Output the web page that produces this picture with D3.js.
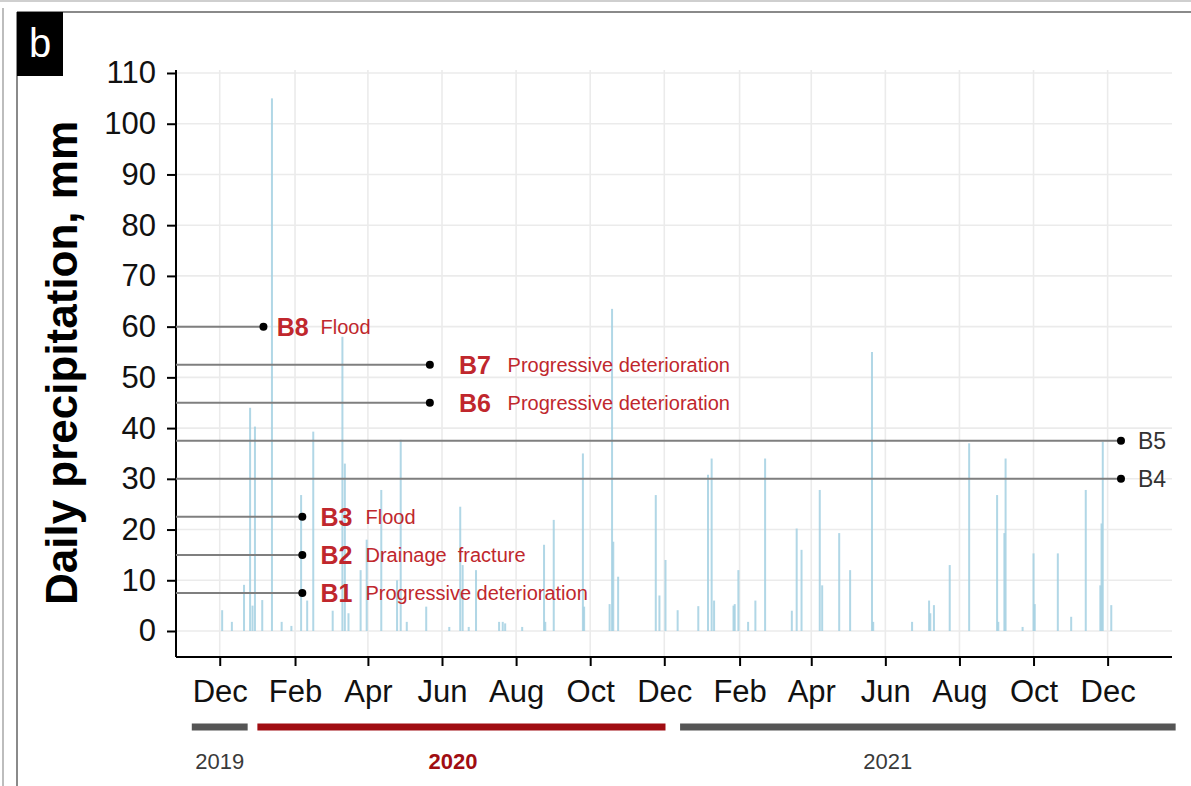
<!DOCTYPE html>
<html><head><meta charset="utf-8">
<script src="https://cdn.jsdelivr.net/npm/d3@7"></script>
<style>body{margin:0;background:#fff}svg{display:block;font-family:Arial,"Liberation Sans",sans-serif}</style>
</head><body><svg id="c" width="1191" height="786"></svg>
<script>
// ---------- data ----------
const rainDates = ["2019-12-03","2019-12-11","2019-12-21","2019-12-26","2019-12-28","2019-12-30","2020-01-05","2020-01-13","2020-01-21","2020-01-29","2020-02-06","2020-02-11","2020-02-16","2020-03-03","2020-03-11","2020-03-13","2020-03-16","2020-03-26","2020-03-31","2020-04-12","2020-04-25","2020-04-28","2020-05-03","2020-05-19","2020-06-07","2020-06-16","2020-06-18","2020-06-23","2020-06-29","2020-07-18","2020-07-21","2020-07-23","2020-08-06","2020-08-24","2020-08-25","2020-09-01","2020-09-25","2020-09-26","2020-10-17","2020-10-19","2020-10-20","2020-10-24","2020-11-24","2020-11-27","2020-12-02","2020-12-12","2020-12-29","2021-01-06","2021-01-09","2021-01-11","2021-01-27","2021-01-28","2021-01-31","2021-02-08","2021-02-14","2021-02-22","2021-03-16","2021-03-20","2021-03-24","2021-04-08","2021-04-10","2021-04-24","2021-05-03","2021-05-21","2021-05-22","2021-06-23","2021-07-07","2021-07-08","2021-07-11","2021-07-24","2021-08-09","2021-09-01","2021-09-02","2021-09-07","2021-09-08","2021-09-22","2021-10-01","2021-10-02","2021-10-21","2021-11-01","2021-11-13","2021-11-25","2021-11-26","2021-11-27","2021-12-04"];
const rainValues = [4.1,1.8,9.1,44,5,40.3,6.1,105,1.8,1,26.8,6,39.3,4,58,33,3.5,12,18,27.8,10,37.7,1.8,4.8,0.8,24.5,13,0.8,12,1.8,1.8,1.5,0.8,17,1.8,21.9,35,4.8,5.3,63.5,17.6,10.7,26.8,7,14,4.1,4.9,30.8,34,6,5,5.3,12,1.8,6,34,4,20.2,16,27.8,9,19.3,12,55,1.8,1.8,6,3.5,5.1,13,37,26.8,1.8,19.3,34,0.8,15.3,5.3,15.3,2.8,27.8,9,21.2,37.3,5.1];

const yTicks = [0,10,20,30,40,50,60,70,80,90,100,110];
const xTickDates = ["2019-12-01","2020-02-01","2020-04-01","2020-06-01","2020-08-01","2020-10-01","2020-12-01","2021-02-01","2021-04-01","2021-06-01","2021-08-01","2021-10-01","2021-12-01"];
const xDomain = ["2019-10-26","2022-01-23"];
const yDomain = [-5.125, 110.59];

const annoIds = ["B1","B2","B3","B4","B5","B6","B7","B8"];
const annoValues = [7.5,15,22.5,30,37.5,45,52.5,60];
const annoDotDates = ["2020-02-07","2020-02-07","2020-02-07","2021-12-12","2021-12-12","2020-05-22","2020-05-22","2020-01-06"];
const annoIdDates = ["2020-02-22","2020-02-22","2020-02-22","2021-12-26","2021-12-26","2020-06-15","2020-06-15","2020-01-17"];
const annoTextDates = ["2020-03-30","2020-03-30","2020-03-30",null,null,"2020-07-25","2020-07-25","2020-02-22"];
const annoTexts = ["Progressive deterioration","Drainage  fracture","Flood","","","Progressive deterioration","Progressive deterioration","Flood"];
const annoHighlighted = [true,true,true,false,false,true,true,true];

const yearLabels = ["2019","2020","2021"];
const yearStarts = ["2019-11-08","2020-01-01","2020-12-14"];
const yearEnds = ["2019-12-24","2020-12-02","2022-01-26"];
const yearLabelDates = ["2019-12-01","2020-06-10","2021-06-03"];
const yearHighlighted = [false,true,false];

// ---------- drawing ----------
const parse = d3.utcParse("%Y-%m-%d");
const svg = d3.select("#c");
const L = 176, R = 1172, T = 70, B = 657;
const x = d3.scaleUtc().domain(xDomain.map(parse)).range([L, R]);
const y = d3.scaleLinear().domain(yDomain).range([B, T]);
const RED = "#c0272d", DARKRED = "#a00d12", GREY = "#555";

// frames
svg.append("line").attr("x1",0).attr("x2",1191).attr("y1",1).attr("y2",1).attr("stroke","#cfcfcf").attr("stroke-width",2);
svg.append("line").attr("x1",3).attr("x2",3).attr("y1",8).attr("y2",786).attr("stroke","#bdbdbd").attr("stroke-width",2);
svg.append("line").attr("x1",17).attr("x2",1191).attr("y1",12).attr("y2",12).attr("stroke","#8a8a8a").attr("stroke-width",2);
svg.append("line").attr("x1",17).attr("x2",17).attr("y1",12).attr("y2",786).attr("stroke","#8a8a8a").attr("stroke-width",2);
svg.append("rect").attr("x",17).attr("y",12).attr("width",46).attr("height",64).attr("fill","#000");
svg.append("text").attr("x",40).attr("y",57).attr("text-anchor","middle").attr("fill","#fff").attr("font-size",40).text("b");

// grid
const g = svg.append("g");
g.selectAll(".hg").data(yTicks).join("line").attr("x1",L).attr("x2",R)
  .attr("y1",d=>y(d)).attr("y2",d=>y(d)).attr("stroke","#ebebeb").attr("stroke-width",1.6);
g.selectAll(".vg").data(xTickDates).join("line").attr("x1",d=>x(parse(d))).attr("x2",d=>x(parse(d)))
  .attr("y1",T).attr("y2",B).attr("stroke","#ebebeb").attr("stroke-width",1.6);

// bars
const rain = rainDates.map((d,i)=>({date:parse(d), v:rainValues[i]}));
svg.append("g").selectAll("rect").data(rain).join("rect")
  .attr("x",d=>x(d.date)-1).attr("width",2)
  .attr("y",d=>y(d.v)).attr("height",d=>y(0)-y(d.v))
  .attr("fill","#a3d0e2").attr("opacity",0.85);

// axes
const xAxis = svg.append("g").attr("transform",`translate(0,${B})`)
  .call(d3.axisBottom(x).tickValues(xTickDates.map(parse)).tickFormat(d3.utcFormat("%b")).tickSize(9).tickPadding(14).tickSizeOuter(0));
xAxis.select(".domain").attr("stroke","#000").attr("stroke-width",2).attr("d",`M${L},0H${R}`);
xAxis.selectAll(".tick line").attr("stroke","#000").attr("stroke-width",2);
xAxis.selectAll("text").attr("font-size",31).attr("fill","#111").attr("font-family","Arial, Liberation Sans, sans-serif");

const yAxis = svg.append("g").attr("transform",`translate(${L},0)`)
  .call(d3.axisLeft(y).tickValues(yTicks).tickSize(9).tickPadding(11).tickSizeOuter(0));
yAxis.select(".domain").attr("stroke","#000").attr("stroke-width",2).attr("d",`M0,${T}V${B}`);
yAxis.selectAll(".tick line").attr("stroke","#000").attr("stroke-width",2);
yAxis.selectAll("text").attr("font-size",31).attr("fill","#111").attr("font-family","Arial, Liberation Sans, sans-serif");

svg.append("text").attr("transform","translate(77,363) rotate(-90)").attr("text-anchor","middle")
  .attr("font-size",44).attr("font-weight","bold").attr("fill","#000").text("Daily precipitation, mm");

// annotations
const anno = annoIds.map((id,i)=>({id, v:annoValues[i], dot:parse(annoDotDates[i]), idx:parse(annoIdDates[i]),
  tx: annoTextDates[i] ? parse(annoTextDates[i]) : null, text:annoTexts[i], hi:annoHighlighted[i]}));
const ag = svg.append("g");
ag.selectAll("line").data(anno).join("line").attr("x1",L).attr("x2",d=>x(d.dot))
  .attr("y1",d=>y(d.v)).attr("y2",d=>y(d.v)).attr("stroke","#7f7f7f").attr("stroke-width",2);
ag.selectAll("circle").data(anno).join("circle").attr("cx",d=>x(d.dot)).attr("cy",d=>y(d.v)).attr("r",4).attr("fill","#000");
ag.selectAll(".aid").data(anno).join("text").attr("class","aid").attr("x",d=>x(d.idx)).attr("y",d=>y(d.v))
  .attr("dy","0.36em").attr("font-size",d=>d.hi?25:23).attr("font-weight",d=>d.hi?"bold":"normal")
  .attr("fill",d=>d.hi?RED:"#333").text(d=>d.id);
ag.selectAll(".atx").data(anno.filter(d=>d.tx)).join("text").attr("class","atx").attr("x",d=>x(d.tx)).attr("y",d=>y(d.v))
  .attr("dy","0.36em").attr("font-size",20).attr("fill",RED).attr("xml:space","preserve").style("white-space","pre").text(d=>d.text);

// year bars
const years = yearLabels.map((l,i)=>({l, s:parse(yearStarts[i]), e:parse(yearEnds[i]), c:parse(yearLabelDates[i]), hi:yearHighlighted[i]}));
const yg = svg.append("g");
yg.selectAll("line").data(years).join("line").attr("x1",d=>x(d.s)).attr("x2",d=>x(d.e)).attr("y1",727).attr("y2",727)
  .attr("stroke",d=>d.hi?DARKRED:GREY).attr("stroke-width",7);
yg.selectAll("text").data(years).join("text").attr("x",d=>x(d.c)).attr("y",769).attr("text-anchor","middle")
  .attr("font-size",22).attr("font-weight",d=>d.hi?"bold":"normal").attr("fill",d=>d.hi?DARKRED:"#3a3a3a").text(d=>d.l);
</script></body></html>
